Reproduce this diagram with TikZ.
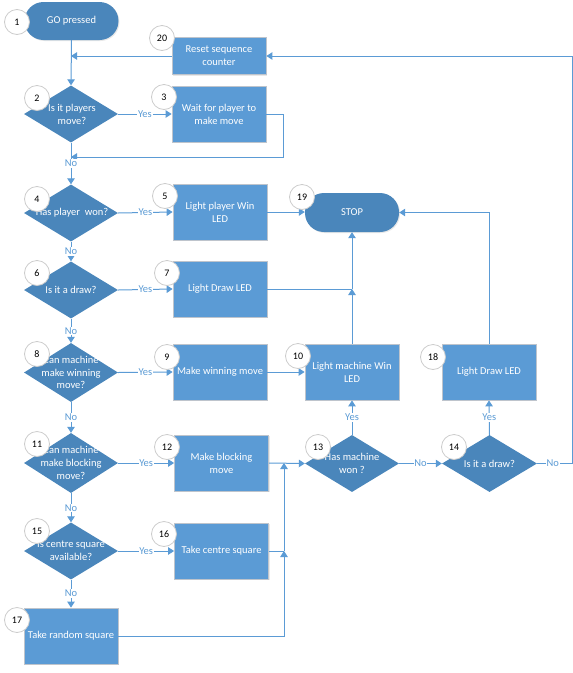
\documentclass[tikz,border=0pt]{standalone}
\usepackage{fontspec}
\setmainfont{Carlito}
\usetikzlibrary{shapes.geometric,arrows.meta,shadows}
\definecolor{dk}{RGB}{74,134,187}
\definecolor{lt}{RGB}{91,155,213}
\definecolor{ln}{RGB}{91,155,213}
\definecolor{boxedge}{RGB}{190,196,204}
\begin{document}
\begin{tikzpicture}[x=1pt,y=-1pt,
  base/.style={font=\fontsize{10.5}{12.8}\selectfont, text=white, align=center, inner sep=0pt},
  boxn/.style={base, rectangle, fill=lt, draw=boxedge, line width=0.8pt, minimum width=94pt, minimum height=56pt,
    drop shadow={opacity=0.18, shadow xshift=1pt, shadow yshift=-1pt}},
  dia/.style={diamond, fill=dk, minimum width=94pt, minimum height=57pt, inner sep=0pt},
  dtxt/.style={base},
  term/.style={base, rectangle, rounded corners=19pt, fill=dk, minimum width=94pt, minimum height=38pt,
    drop shadow={opacity=0.18, shadow xshift=1pt, shadow yshift=-1pt}},
  num/.style={circle, draw=gray!40, fill=white, line width=0.8pt, minimum size=25pt, inner sep=0pt,
    font=\fontsize{10}{11}\selectfont, text=black},
  arr/.style={draw=ln, line width=1pt, -{Triangle[length=6pt,width=7.5pt]}},
  lnk/.style={draw=ln, line width=1pt},
  lbl/.style={fill=white, text=ln, font=\fontsize{10.5}{11}\selectfont, inner sep=0.8pt}]
\useasboundingbox (0,0) rectangle (573,673);

% shapes
\node[term] (T1) at (71.5,21) {GO pressed};
\node[boxn, minimum height=37pt] (B20) at (219,56) {Reset sequence\\counter};
\node[dia] (D2) at (71,114) {};
\node[dtxt] (D2t) at (72,114) {Is it players\\move?};
\node[boxn] (B3) at (219,114) {Wait for player to\\make move};
\node[dia] (D4) at (71,213) {};
\node[dtxt] (D4t) at (72,213) {Has player \ won?};
\node[boxn] (B5) at (220,212) {Light player Win\\LED};
\node[term, minimum height=39pt] (T19) at (352,212.5) {STOP};
\node[dia] (D6) at (71,290) {};
\node[dtxt] (D6t) at (71,290) {Is it a draw?};
\node[boxn] (B7) at (220,289) {Light Draw LED};
\node[dia, minimum height=59pt] (D8) at (71,372.5) {};
\node[dtxt] (D8t) at (71,372.5) {Can machine\\make winning\\move?};
\node[boxn] (B9) at (220,372) {Make winning move};
\node[boxn] (B10) at (352,372) {Light machine Win\\LED};
\node[boxn] (B18) at (489,372) {Light Draw LED};
\node[dia, minimum height=60pt] (D11) at (71,463) {};
\node[dtxt] (D11t) at (71,463) {Can machine\\make blocking\\move?};
\node[boxn] (B12) at (221.5,463) {Make blocking\\move};
\node[dia] (D13) at (352,463.5) {};
\node[dtxt] (D13t) at (352,463.5) {Has machine\\won ?};
\node[dia, minimum width=95pt] (D14) at (489.5,463.5) {};
\node[dtxt] (D14t) at (489.5,463.5) {Is it a draw?};
\node[dia] (D15) at (71,551) {};
\node[dtxt] (D15t) at (71,551) {Is centre square\\available?};
\node[boxn] (B16) at (221.5,551) {Take centre square};
\node[boxn] (B17) at (71,636) {Take random square};

% junction coordinates
\coordinate (j20) at (71,56);
\coordinate (j3) at (71,157);
\coordinate (k3a) at (283,114);
\coordinate (k3b) at (283,157);
\coordinate (j7) at (352,289);
\coordinate (j12) at (284,463);
\coordinate (j16) at (284,551);
\coordinate (k17) at (284,636);
\coordinate (k18) at (489,212.5);
\coordinate (k14a) at (572,463.5);
\coordinate (k14b) at (572,56);

% connectors
\draw[arr] (T1.south) -- (D2.north);
\draw[arr] (B20.west) -- (j20);
\draw[arr] (D2.east) -- node[lbl]{Yes} (B3.west);
\draw[arr] (B3.east) -- (k3a) -- (k3b) -- (j3);
\draw[arr] (D2.south) -- node[lbl]{No} (D4.north);
\draw[arr] (D4.east) -- node[lbl]{Yes} (B5.west);
\draw[arr] (B5.east) -- (B5.east -| T19.west);
\draw[arr] (D4.south) -- node[lbl]{No} (D6.north);
\draw[arr] (D6.east) -- node[lbl]{Yes} (B7.west);
\draw[lnk] (B7.east) -- (j7);
\draw[arr] (j7) -- (T19.south);
\draw[arr] (B10.north) -- (j7);
\draw[arr] (D6.south) -- node[lbl]{No} (D8.north);
\draw[arr] (D8.east) -- node[lbl]{Yes} (B9.west);
\draw[arr] (B9.east) -- (B10.west);
\draw[arr] (D8.south) -- node[lbl]{No} (D11.north);
\draw[arr] (D11.east) -- node[lbl]{Yes} (B12.west);
\draw[arr] (B12.east) -- (D13.west);
\draw[arr] (D11.south) -- node[lbl]{No} (D15.north);
\draw[arr] (D15.east) -- node[lbl]{Yes} (B16.west);
\draw[lnk] (B16.east) -- (j16);
\draw[arr] (j16) -- (j12);
\draw[arr] (B17.east) -- (k17) -- (j16);
\draw[arr] (D15.south) -- node[lbl]{No} (B17.north);
\draw[arr] (D13.north) -- node[lbl]{Yes} (B10.south);
\draw[arr] (D13.east) -- node[lbl]{No} (D14.west);
\draw[arr] (D14.north) -- node[lbl]{Yes} (B18.south);
\draw[arr] (B18.north) -- (k18) -- (T19.east);
\draw[arr] (D14.east) -- node[lbl, pos=0.45]{No} (k14a) -- (k14b) -- (B20.east);

% number circles
\node[num] (c1) at (17,22) {1};
\node[num] (c20) at (162,38) {20};
\node[num] (c2) at (37,98) {2};
\node[num] (c3) at (164,97) {3};
\node[num] (c4) at (37,199) {4};
\node[num] (c5) at (165,196) {5};
\node[num] (c19) at (302,197) {19};
\node[num] (c6) at (37,273) {6};
\node[num] (c7) at (167,273) {7};
\node[num] (c8) at (37,354) {8};
\node[num] (c9) at (167,357) {9};
\node[num] (c10) at (298,356) {10};
\node[num] (c18) at (433,357) {18};
\node[num] (c11) at (37,444) {11};
\node[num] (c12) at (167,447) {12};
\node[num] (c13) at (318,447) {13};
\node[num] (c14) at (454,447) {14};
\node[num] (c15) at (37,531) {15};
\node[num] (c16) at (164,534) {16};
\node[num] (c17) at (17,620) {17};
\end{tikzpicture}
\end{document}
